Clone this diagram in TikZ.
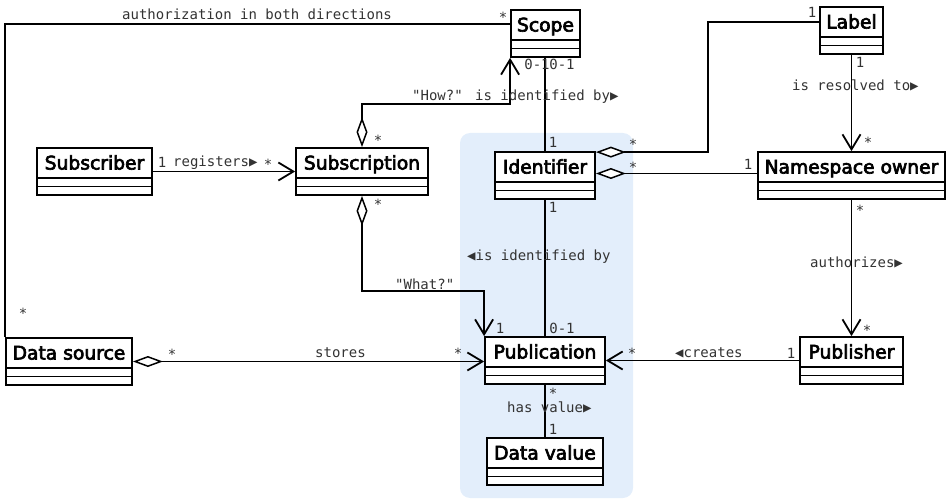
\documentclass[tikz,border=0pt]{standalone}
\usepackage{fontspec}
\setmainfont{DejaVu Sans}
\newfontfamily\umlsans[FakeBold=3.5]{DejaVu Sans}
\newfontfamily\umlmono{DejaVu Sans Mono}
\usetikzlibrary{arrows.meta,calc,fit}
\definecolor{pkgblue}{HTML}{E3EEFB}
\definecolor{labelgray}{HTML}{333333}

\tikzset{
  classframe/.style={draw, line width=1.8pt, inner sep=0pt, fill=white},
  classname/.style={font=\umlsans\fontsize{18.7}{20}\selectfont, anchor=base, inner sep=0pt},
  compline/.style={line width=1.8pt},
  tag/.style={font=\umlmono\fontsize{14}{16}\selectfont, text=labelgray, anchor=base, inner sep=0pt},
  tagw/.style={tag, anchor=base west},
  assoc/.style={line width=1.5pt},
  opentip/.tip={Straight Barb[length=15pt,width=18pt,line width=1.8pt]},
  diamondtip/.tip={Diamond[fill=white,length=30pt,width=11pt,line width=1.5pt]},
  nav/.style={assoc, -opentip},
  aggr/.style={assoc, diamondtip-},
  aggrnav/.style={assoc, diamondtip-opentip},
}

% UML class: node name, left, top, right, class name
\newcommand\umlclass[5]{%
  \node[classframe, fit={(#2,#3) (#4,#3+47)}] (#1) {};
  \draw[compline] (#2,#3+30) -- (#4,#3+30) (#2,#3+38.5) -- (#4,#3+38.5);
  \node[classname] at (0.5*#2+0.5*#4, #3+21.5) {#5};
}

\begin{document}
\begin{tikzpicture}[x=1pt, y=-1pt]
\useasboundingbox (0,0) rectangle (946,500);

% package background
\fill[pkgblue, rounded corners=10pt] (460,133) rectangle (633,498);

% classes
\umlclass{scope}{511}{10}{580}{Scope}
\umlclass{label}{820}{7}{883}{Label}
\umlclass{sub}{37}{148}{152}{Subscriber}
\umlclass{subn}{296}{148}{428}{Subscription}
\umlclass{ident}{495}{152}{595}{Identifier}
\umlclass{nso}{758}{152}{945}{Namespace owner}
\umlclass{dsrc}{6}{338}{132}{Data source}
\umlclass{pub}{485}{337}{605}{Publication}
\umlclass{pubr}{800}{337}{903}{Publisher}
\umlclass{dval}{487}{438}{603}{Data value}

% connectors
\draw[assoc] (dsrc.north west) |- ($(scope.north west)+(0,15)$);
\draw[assoc] (ident.north |- scope.south) -- (ident.north);
\draw[aggr] ($(ident.north east)+(0,1)$) -- ++(112,0) |- ($(label.north west)+(0,16)$);
\draw[aggr] ($(ident.east)+(0,-2)$) -- ($(nso.west)+(0,-2)$);
\draw[nav] (label.south) -- (nso.north);
\draw[nav] (nso.south) -- (pubr.north);
\draw[nav] (pubr.west) -- (pubr.west -| pub.east);
\draw[aggrnav] (dsrc.east) -- (dsrc.east -| pub.west);
\draw[nav] (sub.east) -- (subn.west);
\draw[aggrnav] (subn.south) |- ($(pub.north west)+(0,-45)$) -- (pub.north west);
\draw[aggrnav] (subn.north) |- ($(scope.south west)+(0,46)$) -- (scope.south west);
\draw[assoc] (ident.south) -- (pub.north);
\draw[assoc] (pub.south) -- (dval.north);

% association names and multiplicities
\node[tagw] at (122,20) {authorization in both directions};
\node[tag] at (503,23) {*};
\node[tag] at (23,318) {*};
\node[tag] at (537,70) {0-1};
\node[tag] at (562,70) {0-1};
\node[tag] at (553,148) {1};
\node[tagw] at (475,101) {is identified by▶};
\node[tagw] at (412,101) {"How?"};
\node[tag] at (378,146) {*};
\node[tag] at (812,18) {1};
\node[tag] at (633,150) {*};
\node[tag] at (633,173) {*};
\node[tag] at (748,170) {1};
\node[tag] at (860,68) {1};
\node[tagw] at (792,91) {is resolved to▶};
\node[tag] at (868,148) {*};
\node[tag] at (860,215) {*};
\node[tagw] at (810,267) {authorizes▶};
\node[tag] at (867,335) {*};
\node[tag] at (791,358) {1};
\node[tagw] at (675,357) {◀creates};
\node[tag] at (632,358) {*};
\node[tag] at (172,359) {*};
\node[tagw] at (315,357) {stores};
\node[tag] at (458,358) {*};
\node[tag] at (162,168) {1};
\node[tagw] at (173,167) {registers▶};
\node[tag] at (268,170) {*};
\node[tag] at (378,210) {*};
\node[tagw] at (395,289) {"What?"};
\node[tag] at (500,333) {1};
\node[tag] at (562,333) {0-1};
\node[tag] at (553,213) {1};
\node[tagw] at (467,260) {◀is identified by};
\node[tag] at (553,398) {*};
\node[tagw] at (507,412) {has value▶};
\node[tag] at (553,434) {1};
\end{tikzpicture}
\end{document}
